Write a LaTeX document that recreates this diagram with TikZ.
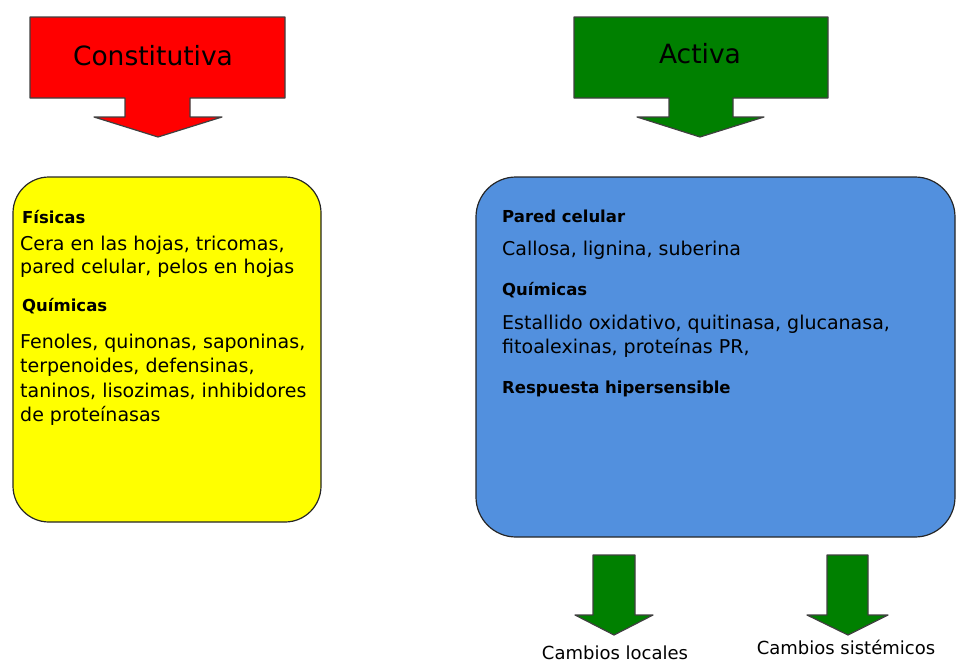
\documentclass[tikz,border=0pt]{standalone}
\usepackage{fontspec}
\setmainfont{DejaVu Sans}
\usepackage{xcolor}

\definecolor{rojo}{RGB}{255,0,0}
\definecolor{verde}{RGB}{0,128,0}
\definecolor{amarillo}{RGB}{255,255,0}
\definecolor{azul}{RGB}{82,144,222}

\tikzset{
  flecha/.style={draw=black!75, line width=1.2pt, line join=round},
  caja/.style={draw=black!85, line width=1.2pt, rounded corners=36pt},
  titulo/.style={font=\fontsize{26.5}{28}\selectfont, anchor=base},
  encab/.style={font=\fontsize{16.5}{18}\selectfont\bfseries, anchor=base west, inner sep=0pt},
  linea/.style={font=\fontsize{19}{21}\selectfont, anchor=base west, inner sep=0pt},
  pie/.style={font=\fontsize{18}{20}\selectfont, anchor=base, inner sep=0pt}
}

\begin{document}
\begin{tikzpicture}[x=1pt, y=-1pt]
    \useasboundingbox (0,0) rectangle (956,664);

    % Big arrows on top
    \draw[flecha, fill=rojo] (30,17) -- (285,17) -- (285,98) -- (190,98) -- (190,117)
        -- (222,117) -- (158,137) -- (94,117) -- (125,117) -- (125,98) -- (30,98) -- cycle;
    \draw[flecha, fill=verde] (574,17) -- (828,17) -- (828,98) -- (733,98) -- (733,117)
        -- (764,117) -- (700,137) -- (637,117) -- (669,117) -- (669,98) -- (574,98) -- cycle;
    \node[titulo] (const) at (153,65) {Constitutiva};
    \node[titulo] (activa) at (700,63) {Activa};

    % Yellow box
    \draw[caja, fill=amarillo] (13,177) rectangle (321,522);
    \node[encab] (fis) at (22,223) {Físicas};
    \node[linea] (fis1) at (20,250) {Cera en las hojas, tricomas,};
    \node[linea] (fis2) at (20,273) {pared celular, pelos en hojas};
    \node[encab] (qui) at (22,311) {Químicas};
    \node[linea] (qui1) at (20,348) {Fenoles, quinonas, saponinas,};
    \node[linea] (qui2) at (20,372) {terpenoides, defensinas,};
    \node[linea] (qui3) at (20,397) {taninos, lisozimas, inhibidores};
    \node[linea] (qui4) at (20,421) {de proteínasas};

    % Blue box
    \draw[caja, rounded corners=40pt, fill=azul] (476,177) rectangle (955,537);
    \node[encab] (pared) at (502,222) {Pared celular};
    \node[linea] (pared1) at (502,255) {Callosa, lignina, suberina};
    \node[encab] (quim) at (502,295) {Químicas};
    \node[linea] (quim1) at (502,329) {Estallido oxidativo, quitinasa, glucanasa,};
    \node[linea] (quim2) at (502,353) {fitoalexinas, proteínas PR,};
    \node[encab] (resp) at (502,393) {Respuesta hipersensible};

    % Small arrows below
    \draw[flecha, fill=verde] (593,555) -- (635,555) -- (635,615) -- (653,615)
        -- (614,635) -- (575,615) -- (593,615) -- cycle;
    \draw[flecha, fill=verde] (827,555) -- (868,555) -- (868,615) -- (888,615)
        -- (848,635) -- (807,615) -- (827,615) -- cycle;
    \node[pie] (loc) at (615,659) {Cambios locales};
    \node[pie] (sist) at (846,654) {Cambios sistémicos};
\end{tikzpicture}
\end{document}
